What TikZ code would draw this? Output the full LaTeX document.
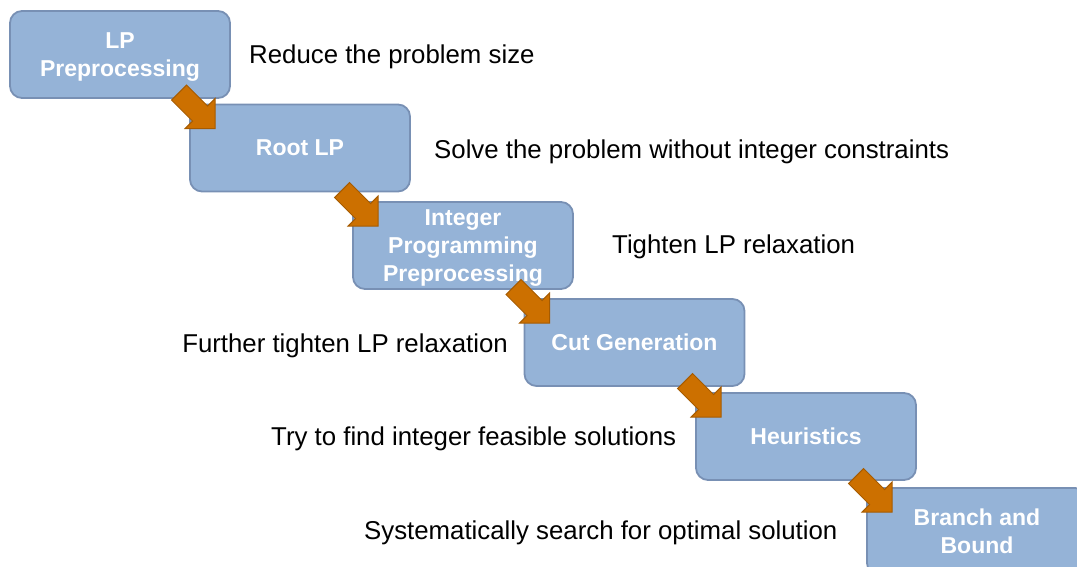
\documentclass[tikz,border=0pt]{standalone}
\usepackage{fontspec}
\setmainfont{Liberation Sans}
\usetikzlibrary{calc}
\definecolor{boxfill}{HTML}{95B3D7}
\definecolor{boxline}{HTML}{7890B4}
\definecolor{arrfill}{HTML}{CC7000}
\definecolor{arrline}{HTML}{A65B00}
\tikzset{
  stepbox/.style={draw=boxline, line width=1.8pt, fill=boxfill, rounded corners=12pt,
    minimum width=220pt, minimum height=87pt, inner sep=0pt, align=center, text depth=0pt,
    text=white, font=\fontsize{23}{28}\selectfont\bfseries},
  note/.style={inner sep=0pt, font=\fontsize{25.8}{30}\selectfont},
  fatarrow/.style={draw=arrline, line width=1pt, fill=arrfill, line join=miter}
}
\newcommand\fatarrow[2]{%
  \draw[fatarrow, shift={($(#2.north west)+(26,-25)$)}]
    (-28.5,43.5) -- (-7.5,22.5) -- (0,30) -- (0,0) -- (-30,0) -- (-22.5,7.5) -- (-43.5,28.5) -- cycle;}
\begin{document}
\begin{tikzpicture}[x=1pt,y=1pt]
\useasboundingbox (0,0) rectangle (1077,567);
\clip (0,0) rectangle (1077,567);
\node[stepbox] (b1) at (120,512.5) {LP\\Preprocessing};
\node[stepbox] (b2) at (300,419) {Root LP};
\node[stepbox] (b3) at (463,321.5) {Integer\\Programming\\Preprocessing};
\node[stepbox] (b4) at (634.5,224.5) {Cut Generation};
\node[stepbox] (b5) at (806,130.5) {Heuristics};
\node[stepbox] (b6) at (977,35.5) {Branch and\\Bound};
\fatarrow{b1}{b2}
\fatarrow{b2}{b3}
\fatarrow{b3}{b4}
\fatarrow{b4}{b5}
\fatarrow{b5}{b6}
\node[note, anchor=base west] (t1) at (249,503) {Reduce the problem size};
\node[note, anchor=base west] (t2) at (434,408) {Solve the problem without integer constraints};
\node[note, anchor=base west] (t3) at (612,313) {Tighten LP relaxation};
\node[note, anchor=base east] (t4) at (508,214) {Further tighten LP relaxation};
\node[note, anchor=base west] (t5) at (271,121) {Try to find integer feasible solutions};
\node[note, anchor=base west] (t6) at (364,27) {Systematically search for optimal solution};
\end{tikzpicture}
\end{document}
